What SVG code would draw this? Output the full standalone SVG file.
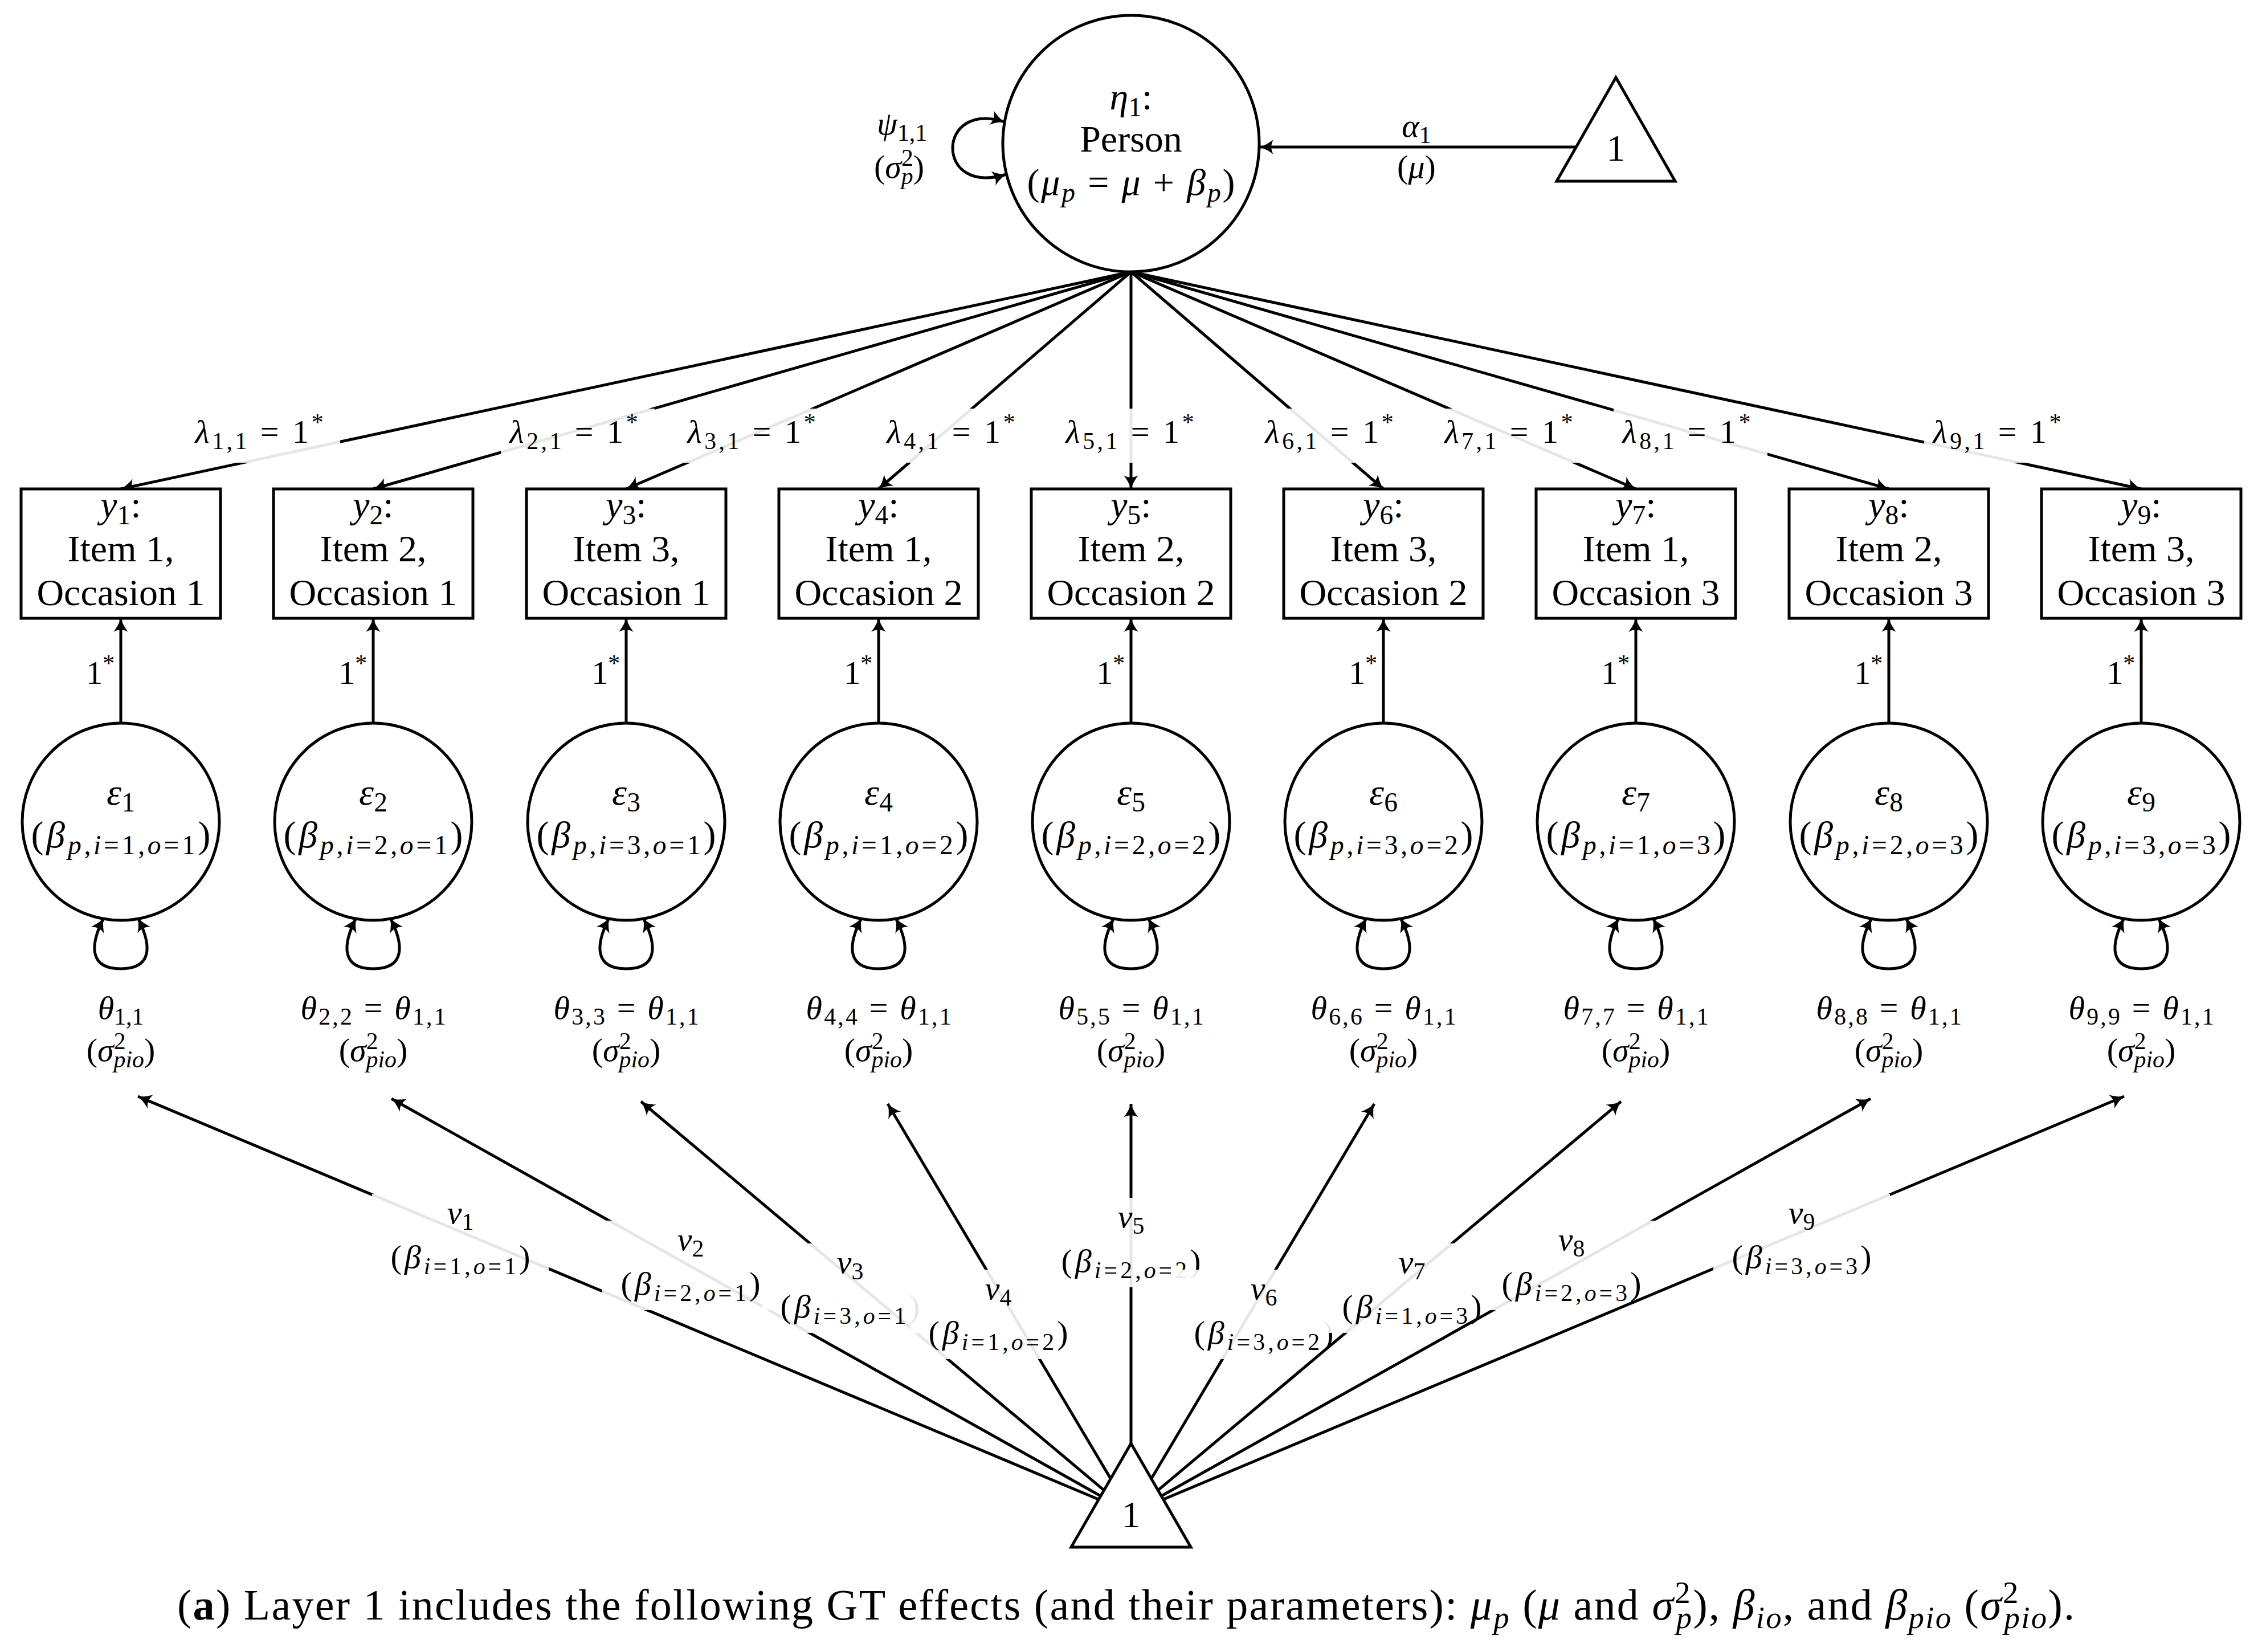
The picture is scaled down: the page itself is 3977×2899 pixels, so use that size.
<svg xmlns="http://www.w3.org/2000/svg" width="3977" height="2899" viewBox="0 0 3977 2899">
<defs>
<style>
text { font-family: "Liberation Serif", "DejaVu Serif", serif; fill: #000; }
.nt { font-size: 66px; text-anchor: middle; }
.el { font-size: 58px; text-anchor: middle; }
.sg { font-size: 58px; text-anchor: middle; }
.er { font-size: 58px; text-anchor: end; }
.i { font-style: italic; }
.s { font-size: 72%; }
.ln { stroke: #000; stroke-width: 5; fill: none; }
.ar { marker-end: url(#arr); }
.lp { marker-start: url(#arr); marker-end: url(#arr); }
.bg { fill: #fff; fill-opacity: 0.9; stroke: none; }
.node { fill: #fff; stroke: #000; stroke-width: 5; }
.cap { font-size: 76px; text-anchor: middle; }
</style>
<marker id="arr" viewBox="-26 -15 28 30" refX="0" refY="0" markerWidth="28" markerHeight="30" markerUnits="userSpaceOnUse" orient="auto-start-reverse">
<path d="M0,0 C-7,-2 -15,-6 -24,-13 C-19,-5 -19,5 -24,13 C-15,6 -7,2 0,0 Z" fill="#000"/>
</marker>
</defs>
<rect x="0" y="0" width="3977" height="2899" fill="#fff"/>

<g id="connectors">
<!-- intercept -->
<path class="ln ar" d="M2767,258 L2211,258"/>
<text class="el" x="2486" y="240"><tspan class="i">α</tspan><tspan class="s" dy="11">1</tspan></text>
<text class="el" x="2486" y="312">(<tspan class="i">μ</tspan>)</text>
<!-- psi loop -->
<path class="ln lp" d="M1763,214 C1705,195 1672,225 1672,260 C1672,295 1705,325 1766,306"/>
<text class="sg" x="1583" y="236"><tspan class="i">ψ</tspan><tspan class="s" dy="11">1,1</tspan></text>
<text class="sg" x="1578" y="312">(<tspan class="i">σ</tspan><tspan class="s" dy="-21">2</tspan><tspan class="s i" dx="-21" dy="32">p</tspan><tspan dy="-11">)</tspan></text>

<!-- loadings -->
<path class="ln ar" d="M1985,477 L212,858"/>
<rect class="bg" x="327" y="717" width="270" height="95"/>
<text class="el" x="455" y="777" textLength="225"><tspan class="i">λ</tspan><tspan class="s" dy="11">1,1</tspan><tspan dy="-11"> = 1</tspan><tspan class="s" dy="-22">*</tspan></text>
<path class="ln ar" d="M1985,477 L655,858"/>
<rect class="bg" x="879" y="717" width="270" height="95"/>
<text class="el" x="1007" y="777" textLength="225"><tspan class="i">λ</tspan><tspan class="s" dy="11">2,1</tspan><tspan dy="-11"> = 1</tspan><tspan class="s" dy="-22">*</tspan></text>
<path class="ln ar" d="M1985,477 L1099,858"/>
<rect class="bg" x="1191" y="717" width="270" height="95"/>
<text class="el" x="1319" y="777" textLength="225"><tspan class="i">λ</tspan><tspan class="s" dy="11">3,1</tspan><tspan dy="-11"> = 1</tspan><tspan class="s" dy="-22">*</tspan></text>
<path class="ln ar" d="M1985,477 L1542,858"/>
<rect class="bg" x="1541" y="717" width="270" height="95"/>
<text class="el" x="1669" y="777" textLength="225"><tspan class="i">λ</tspan><tspan class="s" dy="11">4,1</tspan><tspan dy="-11"> = 1</tspan><tspan class="s" dy="-22">*</tspan></text>
<path class="ln ar" d="M1985,477 L1985,858"/>
<rect class="bg" x="1855" y="717" width="270" height="95"/>
<text class="el" x="1983" y="777" textLength="225"><tspan class="i">λ</tspan><tspan class="s" dy="11">5,1</tspan><tspan dy="-11"> = 1</tspan><tspan class="s" dy="-22">*</tspan></text>
<path class="ln ar" d="M1985,477 L2428,858"/>
<rect class="bg" x="2205" y="717" width="270" height="95"/>
<text class="el" x="2333" y="777" textLength="225"><tspan class="i">λ</tspan><tspan class="s" dy="11">6,1</tspan><tspan dy="-11"> = 1</tspan><tspan class="s" dy="-22">*</tspan></text>
<path class="ln ar" d="M1985,477 L2871,858"/>
<rect class="bg" x="2520" y="717" width="270" height="95"/>
<text class="el" x="2648" y="777" textLength="225"><tspan class="i">λ</tspan><tspan class="s" dy="11">7,1</tspan><tspan dy="-11"> = 1</tspan><tspan class="s" dy="-22">*</tspan></text>
<path class="ln ar" d="M1985,477 L3315,858"/>
<rect class="bg" x="2832" y="717" width="270" height="95"/>
<text class="el" x="2960" y="777" textLength="225"><tspan class="i">λ</tspan><tspan class="s" dy="11">8,1</tspan><tspan dy="-11"> = 1</tspan><tspan class="s" dy="-22">*</tspan></text>
<path class="ln ar" d="M1985,477 L3758,858"/>
<rect class="bg" x="3377" y="717" width="270" height="95"/>
<text class="el" x="3505" y="777" textLength="225"><tspan class="i">λ</tspan><tspan class="s" dy="11">9,1</tspan><tspan dy="-11"> = 1</tspan><tspan class="s" dy="-22">*</tspan></text>

<!-- residual paths -->
<path class="ln ar" d="M212,1269 L212,1085"/>
<text class="er" x="201" y="1200">1<tspan class="s" dy="-22">*</tspan></text>
<path class="ln ar" d="M655,1269 L655,1085"/>
<text class="er" x="644" y="1200">1<tspan class="s" dy="-22">*</tspan></text>
<path class="ln ar" d="M1099,1269 L1099,1085"/>
<text class="er" x="1088" y="1200">1<tspan class="s" dy="-22">*</tspan></text>
<path class="ln ar" d="M1542,1269 L1542,1085"/>
<text class="er" x="1531" y="1200">1<tspan class="s" dy="-22">*</tspan></text>
<path class="ln ar" d="M1985,1269 L1985,1085"/>
<text class="er" x="1974" y="1200">1<tspan class="s" dy="-22">*</tspan></text>
<path class="ln ar" d="M2428,1269 L2428,1085"/>
<text class="er" x="2417" y="1200">1<tspan class="s" dy="-22">*</tspan></text>
<path class="ln ar" d="M2871,1269 L2871,1085"/>
<text class="er" x="2860" y="1200">1<tspan class="s" dy="-22">*</tspan></text>
<path class="ln ar" d="M3315,1269 L3315,1085"/>
<text class="er" x="3304" y="1200">1<tspan class="s" dy="-22">*</tspan></text>
<path class="ln ar" d="M3758,1269 L3758,1085"/>
<text class="er" x="3747" y="1200">1<tspan class="s" dy="-22">*</tspan></text>

<!-- residual variance loops -->
<path class="ln lp" d="M182,1611 C157,1660 157,1700 212,1700 C267,1700 267,1660 242,1611"/>
<path class="ln lp" d="M625,1611 C600,1660 600,1700 655,1700 C710,1700 710,1660 685,1611"/>
<path class="ln lp" d="M1069,1611 C1044,1660 1044,1700 1099,1700 C1154,1700 1154,1660 1129,1611"/>
<path class="ln lp" d="M1512,1611 C1487,1660 1487,1700 1542,1700 C1597,1700 1597,1660 1572,1611"/>
<path class="ln lp" d="M1955,1611 C1930,1660 1930,1700 1985,1700 C2040,1700 2040,1660 2015,1611"/>
<path class="ln lp" d="M2398,1611 C2373,1660 2373,1700 2428,1700 C2483,1700 2483,1660 2458,1611"/>
<path class="ln lp" d="M2841,1611 C2816,1660 2816,1700 2871,1700 C2926,1700 2926,1660 2901,1611"/>
<path class="ln lp" d="M3285,1611 C3260,1660 3260,1700 3315,1700 C3370,1700 3370,1660 3345,1611"/>
<path class="ln lp" d="M3728,1611 C3703,1660 3703,1700 3758,1700 C3813,1700 3813,1660 3788,1611"/>

<text class="el" x="212" y="1788"><tspan class="i">θ</tspan><tspan class="s" dy="10">1,1</tspan></text>
<text class="el" x="655" y="1788" textLength="255"><tspan class="i">θ</tspan><tspan class="s" dy="10">2,2</tspan><tspan dy="-10"> = </tspan><tspan class="i">θ</tspan><tspan class="s" dy="10">1,1</tspan></text>
<text class="el" x="1099" y="1788" textLength="255"><tspan class="i">θ</tspan><tspan class="s" dy="10">3,3</tspan><tspan dy="-10"> = </tspan><tspan class="i">θ</tspan><tspan class="s" dy="10">1,1</tspan></text>
<text class="el" x="1542" y="1788" textLength="255"><tspan class="i">θ</tspan><tspan class="s" dy="10">4,4</tspan><tspan dy="-10"> = </tspan><tspan class="i">θ</tspan><tspan class="s" dy="10">1,1</tspan></text>
<text class="el" x="1985" y="1788" textLength="255"><tspan class="i">θ</tspan><tspan class="s" dy="10">5,5</tspan><tspan dy="-10"> = </tspan><tspan class="i">θ</tspan><tspan class="s" dy="10">1,1</tspan></text>
<text class="el" x="2428" y="1788" textLength="255"><tspan class="i">θ</tspan><tspan class="s" dy="10">6,6</tspan><tspan dy="-10"> = </tspan><tspan class="i">θ</tspan><tspan class="s" dy="10">1,1</tspan></text>
<text class="el" x="2871" y="1788" textLength="255"><tspan class="i">θ</tspan><tspan class="s" dy="10">7,7</tspan><tspan dy="-10"> = </tspan><tspan class="i">θ</tspan><tspan class="s" dy="10">1,1</tspan></text>
<text class="el" x="3315" y="1788" textLength="255"><tspan class="i">θ</tspan><tspan class="s" dy="10">8,8</tspan><tspan dy="-10"> = </tspan><tspan class="i">θ</tspan><tspan class="s" dy="10">1,1</tspan></text>
<text class="el" x="3758" y="1788" textLength="255"><tspan class="i">θ</tspan><tspan class="s" dy="10">9,9</tspan><tspan dy="-10"> = </tspan><tspan class="i">θ</tspan><tspan class="s" dy="10">1,1</tspan></text>

<text class="sg" x="212" y="1862">(<tspan class="i">σ</tspan><tspan class="s" dy="-21">2</tspan><tspan class="s i" dx="-21" dy="32">pio</tspan><tspan dy="-11">)</tspan></text>
<text class="sg" x="655" y="1862">(<tspan class="i">σ</tspan><tspan class="s" dy="-21">2</tspan><tspan class="s i" dx="-21" dy="32">pio</tspan><tspan dy="-11">)</tspan></text>
<text class="sg" x="1099" y="1862">(<tspan class="i">σ</tspan><tspan class="s" dy="-21">2</tspan><tspan class="s i" dx="-21" dy="32">pio</tspan><tspan dy="-11">)</tspan></text>
<text class="sg" x="1542" y="1862">(<tspan class="i">σ</tspan><tspan class="s" dy="-21">2</tspan><tspan class="s i" dx="-21" dy="32">pio</tspan><tspan dy="-11">)</tspan></text>
<text class="sg" x="1985" y="1862">(<tspan class="i">σ</tspan><tspan class="s" dy="-21">2</tspan><tspan class="s i" dx="-21" dy="32">pio</tspan><tspan dy="-11">)</tspan></text>
<text class="sg" x="2428" y="1862">(<tspan class="i">σ</tspan><tspan class="s" dy="-21">2</tspan><tspan class="s i" dx="-21" dy="32">pio</tspan><tspan dy="-11">)</tspan></text>
<text class="sg" x="2871" y="1862">(<tspan class="i">σ</tspan><tspan class="s" dy="-21">2</tspan><tspan class="s i" dx="-21" dy="32">pio</tspan><tspan dy="-11">)</tspan></text>
<text class="sg" x="3315" y="1862">(<tspan class="i">σ</tspan><tspan class="s" dy="-21">2</tspan><tspan class="s i" dx="-21" dy="32">pio</tspan><tspan dy="-11">)</tspan></text>
<text class="sg" x="3758" y="1862">(<tspan class="i">σ</tspan><tspan class="s" dy="-21">2</tspan><tspan class="s i" dx="-21" dy="32">pio</tspan><tspan dy="-11">)</tspan></text>

<!-- item-occasion means -->
<path class="ln ar" d="M1928.3,2631.2 L242,1924"/>
<rect class="bg" x="653" y="2095" width="310" height="157"/>
<text class="el" x="808" y="2147"><tspan class="i">ν</tspan><tspan class="s" dy="11">1</tspan></text>
<text class="el" x="808" y="2225" textLength="245">(<tspan class="i">β</tspan><tspan class="s" dy="11"><tspan class="i">i</tspan>=1,<tspan class="i">o</tspan>=1</tspan><tspan dy="-11">)</tspan></text>
<path class="ln ar" d="M1931.8,2625.2 L687,1928"/>
<rect class="bg" x="1057" y="2142" width="310" height="157"/>
<text class="el" x="1212" y="2194"><tspan class="i">ν</tspan><tspan class="s" dy="11">2</tspan></text>
<text class="el" x="1212" y="2272" textLength="245">(<tspan class="i">β</tspan><tspan class="s" dy="11"><tspan class="i">i</tspan>=2,<tspan class="i">o</tspan>=1</tspan><tspan dy="-11">)</tspan></text>
<path class="ln ar" d="M1937.6,2615.2 L1125,1933"/>
<rect class="bg" x="1337" y="2182" width="310" height="157"/>
<text class="el" x="1492" y="2234"><tspan class="i">ν</tspan><tspan class="s" dy="11">3</tspan></text>
<text class="el" x="1492" y="2312" textLength="245">(<tspan class="i">β</tspan><tspan class="s" dy="11"><tspan class="i">i</tspan>=3,<tspan class="i">o</tspan>=1</tspan><tspan dy="-11">)</tspan></text>
<path class="ln ar" d="M1949.3,2594.9 L1558,1937"/>
<rect class="bg" x="1597" y="2228" width="310" height="157"/>
<text class="el" x="1752" y="2280"><tspan class="i">ν</tspan><tspan class="s" dy="11">4</tspan></text>
<text class="el" x="1752" y="2358" textLength="245">(<tspan class="i">β</tspan><tspan class="s" dy="11"><tspan class="i">i</tspan>=1,<tspan class="i">o</tspan>=2</tspan><tspan dy="-11">)</tspan></text>
<path class="ln ar" d="M1985,2533 L1985,1937"/>
<rect class="bg" x="1830" y="2102" width="310" height="157"/>
<text class="el" x="1985" y="2154"><tspan class="i">ν</tspan><tspan class="s" dy="11">5</tspan></text>
<text class="el" x="1985" y="2232" textLength="245">(<tspan class="i">β</tspan><tspan class="s" dy="11"><tspan class="i">i</tspan>=2,<tspan class="i">o</tspan>=2</tspan><tspan dy="-11">)</tspan></text>
<path class="ln ar" d="M2020.7,2594.9 L2412,1937"/>
<rect class="bg" x="2063" y="2228" width="310" height="157"/>
<text class="el" x="2218" y="2280"><tspan class="i">ν</tspan><tspan class="s" dy="11">6</tspan></text>
<text class="el" x="2218" y="2358" textLength="245">(<tspan class="i">β</tspan><tspan class="s" dy="11"><tspan class="i">i</tspan>=3,<tspan class="i">o</tspan>=2</tspan><tspan dy="-11">)</tspan></text>
<path class="ln ar" d="M2032.4,2615.2 L2845,1933"/>
<rect class="bg" x="2323" y="2182" width="310" height="157"/>
<text class="el" x="2478" y="2234"><tspan class="i">ν</tspan><tspan class="s" dy="11">7</tspan></text>
<text class="el" x="2478" y="2312" textLength="245">(<tspan class="i">β</tspan><tspan class="s" dy="11"><tspan class="i">i</tspan>=1,<tspan class="i">o</tspan>=3</tspan><tspan dy="-11">)</tspan></text>
<path class="ln ar" d="M2038.2,2625.2 L3283,1928"/>
<rect class="bg" x="2603" y="2142" width="310" height="157"/>
<text class="el" x="2758" y="2194"><tspan class="i">ν</tspan><tspan class="s" dy="11">8</tspan></text>
<text class="el" x="2758" y="2272" textLength="245">(<tspan class="i">β</tspan><tspan class="s" dy="11"><tspan class="i">i</tspan>=2,<tspan class="i">o</tspan>=3</tspan><tspan dy="-11">)</tspan></text>
<path class="ln ar" d="M2041.7,2631.2 L3728,1924"/>
<rect class="bg" x="3007" y="2095" width="310" height="157"/>
<text class="el" x="3162" y="2147"><tspan class="i">ν</tspan><tspan class="s" dy="11">9</tspan></text>
<text class="el" x="3162" y="2225" textLength="245">(<tspan class="i">β</tspan><tspan class="s" dy="11"><tspan class="i">i</tspan>=3,<tspan class="i">o</tspan>=3</tspan><tspan dy="-11">)</tspan></text>
</g>

<g id="eta1">
<circle class="node" cx="1985" cy="252" r="225"/>
<text class="nt" x="1985" y="192"><tspan class="i">η</tspan><tspan class="s" dy="12">1</tspan><tspan dy="-12">:</tspan></text>
<text class="nt" x="1985" y="266">Person</text>
<text class="nt" x="1985" y="342" textLength="365">(<tspan class="i">μ</tspan><tspan class="s i" dy="12">p</tspan><tspan dy="-12"> = </tspan><tspan class="i">μ</tspan> + <tspan class="i">β</tspan><tspan class="s i" dy="12">p</tspan><tspan dy="-12">)</tspan></text>
</g>

<g id="const_top">
<polygon class="node" points="2836,136 2732,318 2940,318"/>
<text class="nt" x="2836" y="282">1</text>
</g>

<g id="const_bottom">
<polygon class="node" points="1985,2533 1880,2715 2090,2715"/>
<text class="nt" x="1985" y="2680">1</text>
</g>

<g id="y1"><rect class="node" x="37" y="858" width="350" height="227"/>
<text class="nt" x="212" y="908"><tspan class="i">y</tspan><tspan class="s" dy="12">1</tspan><tspan dy="-12">:</tspan></text>
<text class="nt" x="212" y="985">Item 1,</text><text class="nt" x="212" y="1062">Occasion 1</text></g>
<g id="y2"><rect class="node" x="480" y="858" width="350" height="227"/>
<text class="nt" x="655" y="908"><tspan class="i">y</tspan><tspan class="s" dy="12">2</tspan><tspan dy="-12">:</tspan></text>
<text class="nt" x="655" y="985">Item 2,</text><text class="nt" x="655" y="1062">Occasion 1</text></g>
<g id="y3"><rect class="node" x="924" y="858" width="350" height="227"/>
<text class="nt" x="1099" y="908"><tspan class="i">y</tspan><tspan class="s" dy="12">3</tspan><tspan dy="-12">:</tspan></text>
<text class="nt" x="1099" y="985">Item 3,</text><text class="nt" x="1099" y="1062">Occasion 1</text></g>
<g id="y4"><rect class="node" x="1367" y="858" width="350" height="227"/>
<text class="nt" x="1542" y="908"><tspan class="i">y</tspan><tspan class="s" dy="12">4</tspan><tspan dy="-12">:</tspan></text>
<text class="nt" x="1542" y="985">Item 1,</text><text class="nt" x="1542" y="1062">Occasion 2</text></g>
<g id="y5"><rect class="node" x="1810" y="858" width="350" height="227"/>
<text class="nt" x="1985" y="908"><tspan class="i">y</tspan><tspan class="s" dy="12">5</tspan><tspan dy="-12">:</tspan></text>
<text class="nt" x="1985" y="985">Item 2,</text><text class="nt" x="1985" y="1062">Occasion 2</text></g>
<g id="y6"><rect class="node" x="2253" y="858" width="350" height="227"/>
<text class="nt" x="2428" y="908"><tspan class="i">y</tspan><tspan class="s" dy="12">6</tspan><tspan dy="-12">:</tspan></text>
<text class="nt" x="2428" y="985">Item 3,</text><text class="nt" x="2428" y="1062">Occasion 2</text></g>
<g id="y7"><rect class="node" x="2696" y="858" width="350" height="227"/>
<text class="nt" x="2871" y="908"><tspan class="i">y</tspan><tspan class="s" dy="12">7</tspan><tspan dy="-12">:</tspan></text>
<text class="nt" x="2871" y="985">Item 1,</text><text class="nt" x="2871" y="1062">Occasion 3</text></g>
<g id="y8"><rect class="node" x="3140" y="858" width="350" height="227"/>
<text class="nt" x="3315" y="908"><tspan class="i">y</tspan><tspan class="s" dy="12">8</tspan><tspan dy="-12">:</tspan></text>
<text class="nt" x="3315" y="985">Item 2,</text><text class="nt" x="3315" y="1062">Occasion 3</text></g>
<g id="y9"><rect class="node" x="3583" y="858" width="350" height="227"/>
<text class="nt" x="3758" y="908"><tspan class="i">y</tspan><tspan class="s" dy="12">9</tspan><tspan dy="-12">:</tspan></text>
<text class="nt" x="3758" y="985">Item 3,</text><text class="nt" x="3758" y="1062">Occasion 3</text></g>

<g id="eps1"><circle class="node" cx="212" cy="1442" r="173"/>
<text class="nt" x="212" y="1412"><tspan class="i">ε</tspan><tspan class="s" dy="12">1</tspan></text>
<text class="nt" x="212" y="1487" textLength="315">(<tspan class="i">β</tspan><tspan class="s" dy="12"><tspan class="i">p</tspan>,<tspan class="i">i</tspan>=1,<tspan class="i">o</tspan>=1</tspan><tspan dy="-12">)</tspan></text></g>
<g id="eps2"><circle class="node" cx="655" cy="1442" r="173"/>
<text class="nt" x="655" y="1412"><tspan class="i">ε</tspan><tspan class="s" dy="12">2</tspan></text>
<text class="nt" x="655" y="1487" textLength="315">(<tspan class="i">β</tspan><tspan class="s" dy="12"><tspan class="i">p</tspan>,<tspan class="i">i</tspan>=2,<tspan class="i">o</tspan>=1</tspan><tspan dy="-12">)</tspan></text></g>
<g id="eps3"><circle class="node" cx="1099" cy="1442" r="173"/>
<text class="nt" x="1099" y="1412"><tspan class="i">ε</tspan><tspan class="s" dy="12">3</tspan></text>
<text class="nt" x="1099" y="1487" textLength="315">(<tspan class="i">β</tspan><tspan class="s" dy="12"><tspan class="i">p</tspan>,<tspan class="i">i</tspan>=3,<tspan class="i">o</tspan>=1</tspan><tspan dy="-12">)</tspan></text></g>
<g id="eps4"><circle class="node" cx="1542" cy="1442" r="173"/>
<text class="nt" x="1542" y="1412"><tspan class="i">ε</tspan><tspan class="s" dy="12">4</tspan></text>
<text class="nt" x="1542" y="1487" textLength="315">(<tspan class="i">β</tspan><tspan class="s" dy="12"><tspan class="i">p</tspan>,<tspan class="i">i</tspan>=1,<tspan class="i">o</tspan>=2</tspan><tspan dy="-12">)</tspan></text></g>
<g id="eps5"><circle class="node" cx="1985" cy="1442" r="173"/>
<text class="nt" x="1985" y="1412"><tspan class="i">ε</tspan><tspan class="s" dy="12">5</tspan></text>
<text class="nt" x="1985" y="1487" textLength="315">(<tspan class="i">β</tspan><tspan class="s" dy="12"><tspan class="i">p</tspan>,<tspan class="i">i</tspan>=2,<tspan class="i">o</tspan>=2</tspan><tspan dy="-12">)</tspan></text></g>
<g id="eps6"><circle class="node" cx="2428" cy="1442" r="173"/>
<text class="nt" x="2428" y="1412"><tspan class="i">ε</tspan><tspan class="s" dy="12">6</tspan></text>
<text class="nt" x="2428" y="1487" textLength="315">(<tspan class="i">β</tspan><tspan class="s" dy="12"><tspan class="i">p</tspan>,<tspan class="i">i</tspan>=3,<tspan class="i">o</tspan>=2</tspan><tspan dy="-12">)</tspan></text></g>
<g id="eps7"><circle class="node" cx="2871" cy="1442" r="173"/>
<text class="nt" x="2871" y="1412"><tspan class="i">ε</tspan><tspan class="s" dy="12">7</tspan></text>
<text class="nt" x="2871" y="1487" textLength="315">(<tspan class="i">β</tspan><tspan class="s" dy="12"><tspan class="i">p</tspan>,<tspan class="i">i</tspan>=1,<tspan class="i">o</tspan>=3</tspan><tspan dy="-12">)</tspan></text></g>
<g id="eps8"><circle class="node" cx="3315" cy="1442" r="173"/>
<text class="nt" x="3315" y="1412"><tspan class="i">ε</tspan><tspan class="s" dy="12">8</tspan></text>
<text class="nt" x="3315" y="1487" textLength="315">(<tspan class="i">β</tspan><tspan class="s" dy="12"><tspan class="i">p</tspan>,<tspan class="i">i</tspan>=2,<tspan class="i">o</tspan>=3</tspan><tspan dy="-12">)</tspan></text></g>
<g id="eps9"><circle class="node" cx="3758" cy="1442" r="173"/>
<text class="nt" x="3758" y="1412"><tspan class="i">ε</tspan><tspan class="s" dy="12">9</tspan></text>
<text class="nt" x="3758" y="1487" textLength="315">(<tspan class="i">β</tspan><tspan class="s" dy="12"><tspan class="i">p</tspan>,<tspan class="i">i</tspan>=3,<tspan class="i">o</tspan>=3</tspan><tspan dy="-12">)</tspan></text></g>

<g id="caption">
<text class="cap" x="1976" y="2842" textLength="3330">(<tspan font-weight="bold">a</tspan>) Layer 1 includes the following GT effects (and their parameters): <tspan class="i">μ</tspan><tspan class="s i" dy="15">p</tspan><tspan dy="-15"> (</tspan><tspan class="i">μ</tspan> and <tspan class="i">σ</tspan><tspan class="s" dy="-29">2</tspan><tspan class="s i" dx="-27" dy="44">p</tspan><tspan dy="-15">), </tspan><tspan class="i">β</tspan><tspan class="s i" dy="15">io</tspan><tspan dy="-15">, and </tspan><tspan class="i">β</tspan><tspan class="s i" dy="15">pio</tspan><tspan dy="-15"> (</tspan><tspan class="i">σ</tspan><tspan class="s" dy="-29">2</tspan><tspan class="s i" dx="-27" dy="44">pio</tspan><tspan dy="-15">).</tspan></text>
</g>
</svg>
